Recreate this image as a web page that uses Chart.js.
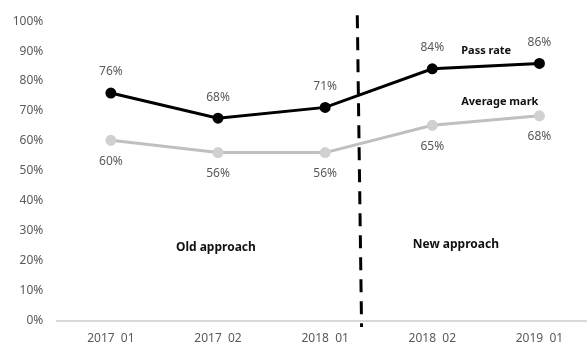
<!DOCTYPE html>
<html>
<head>
<meta charset="utf-8">
<script src="https://cdn.jsdelivr.net/npm/chart.js@4.4.1/dist/chart.umd.min.js"></script>
<style>
  body { margin: 0; overflow: hidden; background: #fff; }
  #wrap { width: 600px; height: 344px; }
</style>
</head>
<body>
<div id="wrap"><canvas id="myChart"></canvas></div>
<script>
var labels = ['2017  01', '2017  02', '2018  01', '2018  02', '2019  01'];
var pass_rate = [76, 67.6, 71.2, 84.1, 85.9];
var avg_mark = [60.2, 56.1, 56.1, 65.2, 68.4];
var y_ticks = [0, 10, 20, 30, 40, 50, 60, 70, 80, 90, 100];

var fontFam = '"Noto Sans", "Open Sans", sans-serif';
var grey = '#595959';

// point labels and text notes drawn on top
var notesPlugin = {
  id: 'notes',
  afterDatasetsDraw: function(chart) {
    var ctx = chart.ctx;
    var xs = chart.scales.x, ys = chart.scales.y;
    ctx.save();

    // dashed divider between old and new approach
    ctx.strokeStyle = '#000';
    ctx.lineWidth = 3;
    ctx.setLineDash([13, 9]);
    ctx.beginPath();
    ctx.moveTo(xs.getPixelForValue(2.3), ys.getPixelForValue(102));
    ctx.lineTo(xs.getPixelForValue(2.34), ys.getPixelForValue(-2.2));
    ctx.stroke();
    ctx.setLineDash([]);

    ctx.font = '12px ' + fontFam;
    ctx.fillStyle = grey;
    ctx.textAlign = 'center';
    ctx.textBaseline = 'middle';
    chart.getDatasetMeta(0).data.forEach(function(p, i) {
      ctx.fillText(Math.round(pass_rate[i]) + '%', p.x, p.y - 21);
    });
    chart.getDatasetMeta(1).data.forEach(function(p, i) {
      ctx.fillText(Math.round(avg_mark[i]) + '%', p.x, p.y + 21);
    });

    ctx.fillStyle = '#111';
    ctx.font = 'bold 11px ' + fontFam;
    ctx.textAlign = 'left';
    ctx.fillText('Pass rate', xs.getPixelForValue(3.27), ys.getPixelForValue(90.2));
    ctx.fillText('Average mark', xs.getPixelForValue(3.27), ys.getPixelForValue(73.2));
    ctx.font = 'bold 12px ' + fontFam;
    ctx.textAlign = 'center';
    ctx.fillText('Old approach', xs.getPixelForValue(0.98), ys.getPixelForValue(24.5));
    ctx.fillText('New approach', xs.getPixelForValue(3.22), ys.getPixelForValue(25.5));
    ctx.restore();
  }
};

const ctx = document.getElementById('myChart');
var chart = new Chart(ctx, {
  type: 'line',
  data: {
    labels: labels,
    datasets: [{
      label: 'Pass rate',
      data: pass_rate,
      borderColor: '#000',
      backgroundColor: '#000',
      borderWidth: 3,
      pointRadius: 4,
      pointBackgroundColor: '#000',
      pointBorderColor: '#000',
      tension: 0
    }, {
      label: 'Average mark',
      data: avg_mark,
      borderColor: '#bfbfbf',
      backgroundColor: '#d0d0d0',
      borderWidth: 3,
      pointRadius: 4,
      pointBackgroundColor: '#d0d0d0',
      pointBorderColor: '#d0d0d0',
      tension: 0
    }]
  },
  options: {
    responsive: true,
    maintainAspectRatio: false,
    animation: false,
    layout: { padding: { top: 19, right: 7, left: 0, bottom: 0 } },
    plugins: {
      legend: { display: false },
      tooltip: { enabled: false }
    },
    scales: {
      x: {
        offset: true,
        grid: { display: false, drawTicks: false },
        border: { display: true, color: '#d9d9d9', width: 2 },
        ticks: { color: grey, font: { size: 12, family: fontFam }, padding: 11, maxRotation: 0 },
        afterFit: function(s) { s.height = 23.5; }
      },
      y: {
        min: 0,
        max: 100,
        afterBuildTicks: function(s) { s.ticks = y_ticks.map(function(v) { return { value: v }; }); },
        grid: { display: false, drawTicks: false },
        border: { display: false },
        ticks: {
          color: grey,
          font: { size: 12, family: fontFam },
          padding: 14,
          callback: function(v) { return v + '%'; }
        },
        afterFit: function(s) { s.width = 57.3; }
      }
    }
  },
  plugins: [notesPlugin]
});
</script>
</body>
</html>
